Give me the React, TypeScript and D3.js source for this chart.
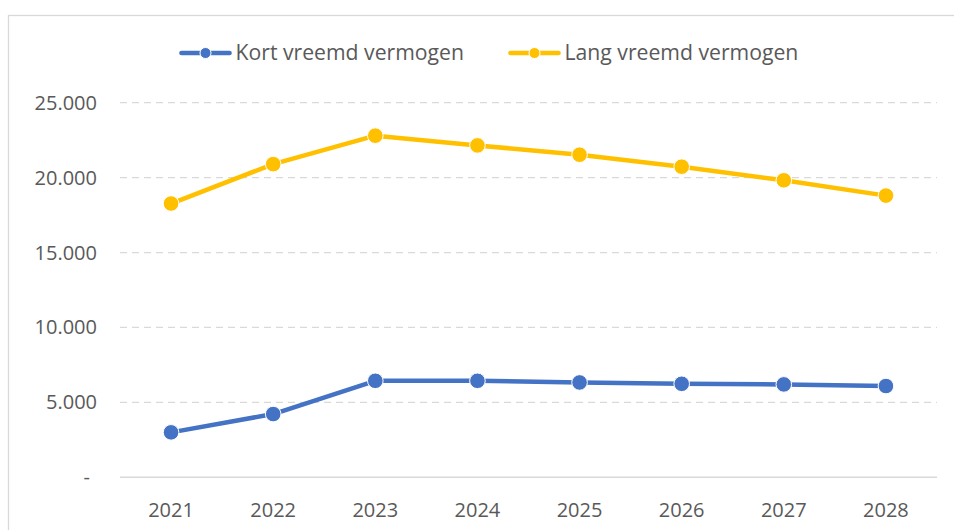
import React from "react";
import * as d3 from "d3";

const years = ["2021", "2022", "2023", "2024", "2025", "2026", "2027", "2028"];
const kortVreemd = [3000, 4220, 6440, 6440, 6330, 6240, 6200, 6090];
const langVreemd = [18270, 20900, 22800, 22150, 21530, 20730, 19820, 18800];
const yTicks = [0, 5000, 10000, 15000, 20000, 25000];
const seriesNames = ["Kort vreemd vermogen", "Lang vreemd vermogen"];
const seriesColors = ["#4472C4", "#FFC000"];

const W = 954;
const H = 530;
const margin = { left: 120, right: 17, top: 102.7, bottom: 52.7 };

export default function App() {
  const x = d3
    .scaleBand<string>()
    .domain(years)
    .range([margin.left, W - margin.right])
    .padding(0);
  const y = d3
    .scaleLinear()
    .domain([0, 25000])
    .range([H - margin.bottom, margin.top]);
  const cx = (d: string) => (x(d) as number) + x.bandwidth() / 2;
  const fmt = (v: number) =>
    v === 0 ? "-" : d3.format(",")(v).replace(/,/g, ".");
  const line = d3
    .line<number>()
    .x((_, i) => cx(years[i]))
    .y((d) => y(d));
  const allSeries = [kortVreemd, langVreemd];
  const font = "'Open Sans', 'Noto Sans', sans-serif";
  const legendItems = [
    { lx: 181.5, tx: 235.5, w: 228 },
    { lx: 510.5, tx: 564.5, w: 235.5 },
  ];

  return (
    <svg
      width={W}
      height={H}
      style={{ position: "absolute", left: 0, top: 0, display: "block", background: "#fff" }}
      fontFamily={font}
    >
      <rect x={8.5} y={15.5} width={W + 10} height={H + 10} fill="#fff" stroke="#D9D9D9" strokeWidth={1.3} />
      {yTicks.map((t) => (
        <g key={t}>
          {t !== 0 && (
            <line
              x1={margin.left}
              x2={W - margin.right}
              y1={y(t)}
              y2={y(t)}
              stroke="#D9D9D9"
              strokeWidth={1.3}
              strokeDasharray="7,5"
            />
          )}
          <text
            x={t === 0 ? 90 : 97}
            y={y(t)}
            dy="0.35em"
            textAnchor="end"
            fontSize={20}
            fill="#595959"
          >
            {fmt(t)}
          </text>
        </g>
      ))}
      <line
        x1={margin.left}
        x2={W - margin.right}
        y1={y(0)}
        y2={y(0)}
        stroke="#D9D9D9"
        strokeWidth={1.5}
      />
      {years.map((yr) => (
        <text
          key={yr}
          x={cx(yr)}
          y={510}
          dy="0.35em"
          textAnchor="middle"
          fontSize={20}
          fill="#595959"
        >
          {yr}
        </text>
      ))}
      {allSeries.map((s, si) => (
        <g key={si}>
          <path d={line(s) || ""} fill="none" stroke={seriesColors[si]} strokeWidth={4.5} strokeLinejoin="round" />
          {s.map((v, i) => (
            <circle
              key={i}
              cx={cx(years[i])}
              cy={y(v)}
              r={7.8}
              fill={seriesColors[si]}
              stroke="#fff"
              strokeWidth={1}
            />
          ))}
        </g>
      ))}
      {seriesNames.map((n, i) => (
        <g key={n}>
          <line
            x1={legendItems[i].lx}
            x2={legendItems[i].lx + 48}
            y1={53}
            y2={53}
            stroke={seriesColors[i]}
            strokeWidth={4.7}
            strokeLinecap="round"
          />
          <circle cx={legendItems[i].lx + 24} cy={53} r={5.5} fill={seriesColors[i]} stroke="#fff" strokeWidth={1} />
          <text
            x={legendItems[i].tx}
            y={53}
            dy="0.35em"
            fontSize={21.2}
            fill="#595959"
          >
            {n}
          </text>
        </g>
      ))}
    </svg>
  );
}
